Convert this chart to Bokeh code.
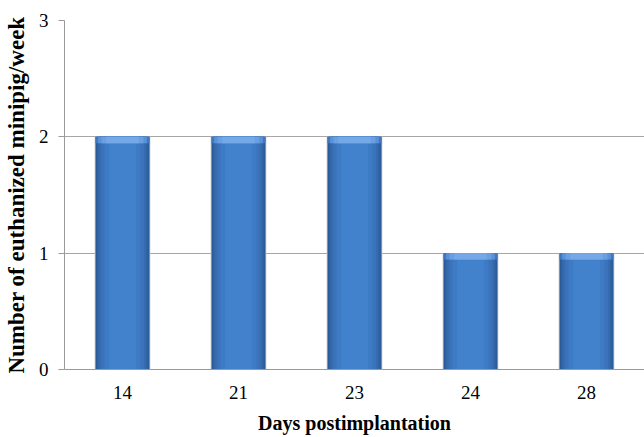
from bokeh.plotting import figure
from bokeh.models import ColumnDataSource, FixedTicker, Range1d
from bokeh.embed import file_html
from bokeh.resources import INLINE

days = ["14", "21", "23", "24", "28"]
counts = [2, 2, 2, 1, 1]
y_ticks = [0, 1, 2, 3]

SERIF = "Liberation Serif"

src = ColumnDataSource(dict(
    day=days,
    count=counts,
    bevel=[c - 0.055 for c in counts],
))

p = figure(x_range=days, y_range=Range1d(0, 3), width=644, height=437,
           output_backend="svg", toolbar_location=None,
           min_border_left=64, min_border_right=0, min_border_top=20,
           min_border_bottom=68)
p.outline_line_color = None
p.background_fill_color = "white"
p.border_fill_color = "white"

# side shadow
p.vbar(x="day", top="count", bottom=0, width=0.48, source=src,
       fill_color="#c3c6cb", line_color=None)
# horizontal gradient layers (dark edge -> light center)
layers = [(0.465, "#2b5b99"), (0.44, "#30629f"), (0.41, "#356baf"),
          (0.37, "#3a73bb"), (0.31, "#3e7bc5"), (0.23, "#4281cc")]
for w, c in layers:
    p.vbar(x="day", top="count", bottom=0, width=w, source=src,
           fill_color=c, line_color=None)
# top bevel
bev = [(0.465, "#3f78c2"), (0.42, "#5a92da"), (0.36, "#6aa0e2"), (0.28, "#74a8e6")]
for w, c in bev:
    p.vbar(x="day", top="count", bottom="bevel", width=w, source=src,
           fill_color=c, line_color=None)

p.yaxis.ticker = FixedTicker(ticks=y_ticks)
p.ygrid.ticker = FixedTicker(ticks=y_ticks)
p.xgrid.grid_line_color = None
p.ygrid.grid_line_color = "#a6a6a6"
p.ygrid.grid_line_width = 1

for ax in (p.xaxis[0], p.yaxis[0]):
    ax.axis_line_color = "#9a9a9a"
    ax.axis_line_width = 1
    ax.major_tick_line_color = "#9a9a9a"
    ax.minor_tick_line_color = None
    ax.major_label_text_font = SERIF
    ax.major_label_text_font_size = "19px"
    ax.major_label_text_color = "black"
    ax.axis_label_text_font = SERIF
    ax.axis_label_text_font_style = "bold"
    ax.axis_label_text_color = "black"

p.yaxis.major_tick_out = 6
p.yaxis.major_tick_in = 0
p.yaxis.major_label_standoff = 10
p.yaxis.axis_label = "Number of euthanized minipig/week"
p.yaxis.axis_label_text_font_size = "23px"
p.yaxis.axis_label_standoff = 7

p.xaxis.major_tick_out = 0
p.xaxis.major_tick_in = 0
p.xaxis.major_label_standoff = 16
p.xaxis.axis_label = "Days postimplantation"
p.xaxis.axis_label_text_font_size = "20px"
p.xaxis.axis_label_standoff = 10

open("out.html", "w").write(file_html(p, INLINE))
